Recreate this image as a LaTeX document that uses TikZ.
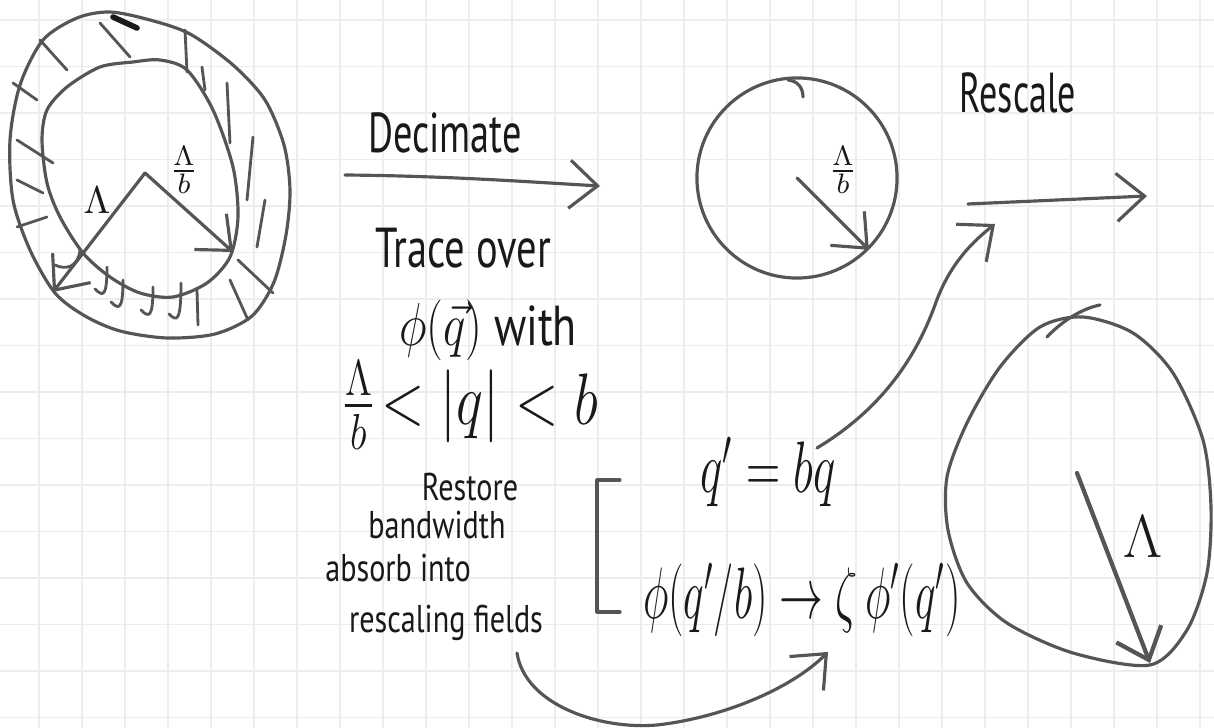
\documentclass[tikz,border=0pt]{standalone}
\usepackage{fontspec}
\setmainfont{PT Sans}
\usepackage{amsmath}
\usetikzlibrary{arrows.meta}
\definecolor{pen}{RGB}{85,85,85}
\definecolor{ink}{RGB}{25,25,25}
\definecolor{gridc}{RGB}{233,238,242}
\newcommand{\narrow}[2]{\scalebox{#1}[1]{#2}}

\begin{document}
\begin{tikzpicture}[x=0.01cm, y=-0.01cm,
      pen/.style={draw=pen, line width=0.9pt, line cap=round, line join=round},
      ar/.style={pen, -{Straight Barb[length=2.8mm,width=4.8mm]}},
      hatch/.style={draw=pen, line width=0.8pt, line cap=round},
      gridln/.style={draw=gridc, line width=0.5pt},
      lbl/.style={text=ink, inner sep=0pt},
      big/.style={lbl, font=\fontsize{16}{18}\selectfont},
      mid/.style={lbl, font=\fontsize{11}{13}\selectfont},
      eqn/.style={lbl, font=\fontsize{21}{24}\selectfont}
    ]
    % ===== paper =====
    \useasboundingbox (0,0) rectangle (1214,728);
    \fill[white] (0,0) rectangle (1214,728);
    \foreach \gx in {39,82,...,1214} \draw[gridln] (\gx,0) -- (\gx,728);
    \foreach \gy in {20,66.5,...,728} \draw[gridln] (0,\gy) -- (1214,\gy);

    % ===== shell of modes (left) =====
    \draw[pen] plot[smooth cycle] coordinates {(77,18) (110,12) (150,20) (190,34) (233,65)
      (265,100) (284,145) (290,190) (286,235) (274,282) (252,316) (215,334) (167,338)
      (120,331) (85,316) (55,293) (30,250) (13,200) (10,140) (20,85) (43,40)};
    \draw[pen] plot[smooth cycle] coordinates {(133,62) (100,67) (67,87) (47,110) (42,140)
      (47,183) (60,217) (83,253) (110,277) (140,293) (173,297) (207,283) (230,257)
      (238,217) (233,167) (213,110) (187,70) (160,60)};
    \foreach \ax/\ay/\bx/\by in {40/40/67/70, 100/23/130/57, 185/30/187/72, 202/67/205/90,
      227/83/230/143, 253/137/247/200, 265/200/257/247, 238/260/273/293, 230/280/248/320,
      197/290/198/325, 13/83/37/100, 17/140/53/163, 17/180/43/193, 17/227/47/217}
      \draw[hatch] (\ax,\ay) -- (\bx,\by);
    \draw[hatch, line width=1.6pt, draw=ink] (113,17) -- (137,28);
    \foreach \jx/\jy/\jb in {107/267/297, 123/280/310, 153/287/318, 181/283/322}
      \draw[hatch] (\jx,\jy) .. controls (\jx,\jb) and (\jx-4,\jb) .. (\jx-12,\jb-8);
    \draw[hatch] (80,250) .. controls (78,268) and (65,270) .. (55,265);

    \coordinate (apex) at (145,173);
    \coordinate (outA) at (53,292);
    \coordinate (inA) at (233,252);
    \draw[ar] (apex) -- (outA);
    \draw[ar] (apex) -- (inA);
    \node[mid] (lamA) at (97,200) {$\Lambda$};
    \node[mid] (lamB) at (184,170) {$\frac{\Lambda}{b}$};

    % ===== decimation step =====
    \node[big] (dec) at (445,133) {\narrow{.68}{Decimate}};
    \coordinate (decS) at (345,175);
    \coordinate (decE) at (600,186);
    \draw[ar] (decS) .. controls (450,176) and (530,182) .. (decE);
    \node[big] (trace) at (463,248) {\narrow{.72}{Trace over}};
    \node[big] (phiq) at (488,330) {\narrow{.78}{$\phi(\vec q)$ with}};
    \node[eqn] (ineq) at (470,405) {\narrow{.78}{$\frac{\Lambda}{b}\!<|q|<b$}};

    % ===== reduced ball =====
    \node[pen, circle, minimum size=2cm, inner sep=0pt] (small) at (797,178) {};
    \draw[pen] (788,80) .. controls (798,81) and (803,88) .. (803,97);
    \draw[ar] (small.center) -- (small.-45);
    \node[mid] (lamC) at (843,170) {$\frac{\Lambda}{b}$};

    % ===== rescale step =====
    \node[big] (resc) at (1018,93) {\narrow{.64}{Rescale}};
    \coordinate (rsS) at (968,204);
    \coordinate (rsE) at (1147,196);
    \draw[ar] (rsS) -- (rsE);

    % ===== restored ball (right) =====
    \draw[pen] plot[smooth cycle] coordinates {(1083,317) (1040,327) (1000,367) (967,423)
      (947,477) (948,530) (967,583) (1007,623) (1073,653) (1150,665) (1187,630)
      (1207,573) (1211,507) (1203,440) (1173,373) (1133,333)};
    \draw[pen] (1047,337) .. controls (1065,318) and (1085,308) .. (1100,305);
    \coordinate (bigC) at (1077,473);
    \coordinate (bigB) at (1150,663);
    \draw[ar, line width=1.2pt] (bigC) -- (bigB);
    \node[big] (lamD) at (1143,537) {$\Lambda$};

    % ===== restoring the cutoff =====
    \node[mid] (restore) at (470,487) {\narrow{.78}{Restore}};
    \node[mid] (bandw) at (437,525) {\narrow{.78}{bandwidth}};
    \node[mid] (absorb) at (398,568) {\narrow{.78}{absorb into}};
    \node[mid] (rescaling) at (446,623) {\narrow{.78}{rescaling fields}};
    \draw[pen] (620,480) -- (597,480) -- (597,612) -- (620,612);
    \node[eqn] (qeq) at (768,472) {\narrow{.65}{$q' = bq$}};
    \node[eqn] (map) at (802,600) {\narrow{.6}{$\phi(q'/b) \to \zeta\,\phi'(q')$}};

    % ===== bent arrows =====
    \coordinate (cS) at (817,448);
    \coordinate (cE) at (995,224);
    \draw[ar] (cS) .. controls (880,410) and (915,360) .. (935,305)
      .. controls (950,262) and (975,240) .. (cE);
    \coordinate (fS) at (517,653);
    \coordinate (fE) at (828,652);
    \draw[ar] (fS) .. controls (525,705) and (600,730) .. (657,725)
      .. controls (720,718) and (790,690) .. (fE);
\end{tikzpicture}
\end{document}
